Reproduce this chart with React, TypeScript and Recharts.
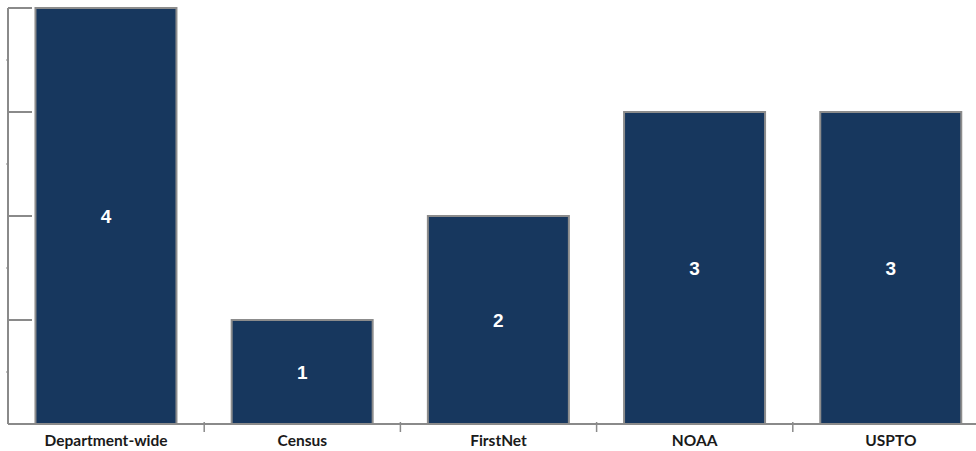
import { BarChart, Bar, XAxis, YAxis, LabelList } from 'recharts';

const categories = ['Department-wide', 'Census', 'FirstNet', 'NOAA', 'USPTO'];
const counts = [4, 1, 2, 3, 3];
const yTicks = [0, 0.5, 1, 1.5, 2, 2.5, 3, 3.5, 4];

const data = categories.map((name, i) => ({ name, count: counts[i] }));

const CHART_W = 990;
const CHART_H = 451;
const Y_W = 8;
const MARGIN = { top: 8, right: 1, bottom: 0, left: 0 };
const BAND = (CHART_W - Y_W - MARGIN.right) / categories.length;
const AXIS = '#8a8a8a';

function YTick(props: any) {
  const { y, payload } = props;
  const x = Y_W;
  const major = Number.isInteger(payload.value);
  if (payload.value === 0) return null;
  return major ? (
    <line x1={x} x2={x + 24} y1={y} y2={y} stroke={AXIS} strokeWidth={2} />
  ) : (
    <line x1={x - 2} x2={x} y1={y} y2={y} stroke={AXIS} strokeWidth={1} />
  );
}

function XTick(props: any) {
  const { x, y, payload, index } = props;
  const bx = x - BAND / 2;
  return (
    <g>
      {index > 0 && (
        <line x1={bx} x2={bx} y1={y - 10} y2={y} stroke={AXIS} strokeWidth={1.5} />
      )}
      <text
        x={x}
        y={y + 14}
        textAnchor="middle"
        fill="#1a1a1a"
        fontSize={15.5}
        fontWeight="bold"
        fontFamily="Lato, 'Liberation Sans', sans-serif"
      >
        {payload.value}
      </text>
    </g>
  );
}

export default function App() {
  return (
    <div style={{ position: 'absolute', left: 0, top: 0, width: 976, height: 451, overflow: 'hidden', background: '#fff' }}>
      <BarChart width={CHART_W} height={CHART_H} data={data} margin={MARGIN} barCategoryGap="14%">
        <XAxis
          dataKey="name"
          height={CHART_H - 424}
          axisLine={{ stroke: AXIS, strokeWidth: 2 }}
          tickLine={false}
          tick={<XTick />}
          interval={0}
        />
        <YAxis
          width={Y_W}
          domain={[0, 4]}
          ticks={yTicks}
          interval={0}
          axisLine={{ stroke: AXIS, strokeWidth: 2 }}
          tickLine={false}
          tick={<YTick />}
        />
        <Bar dataKey="count" fill="#17375e" stroke="#8c8c8c" strokeWidth={2} isAnimationActive={false}>
          <LabelList
            dataKey="count"
            position="center"
            fill="#ffffff"
            fontSize={19}
            fontWeight="bold"
            fontFamily="'Liberation Sans', Arial, sans-serif"
          />
        </Bar>
      </BarChart>
    </div>
  );
}
